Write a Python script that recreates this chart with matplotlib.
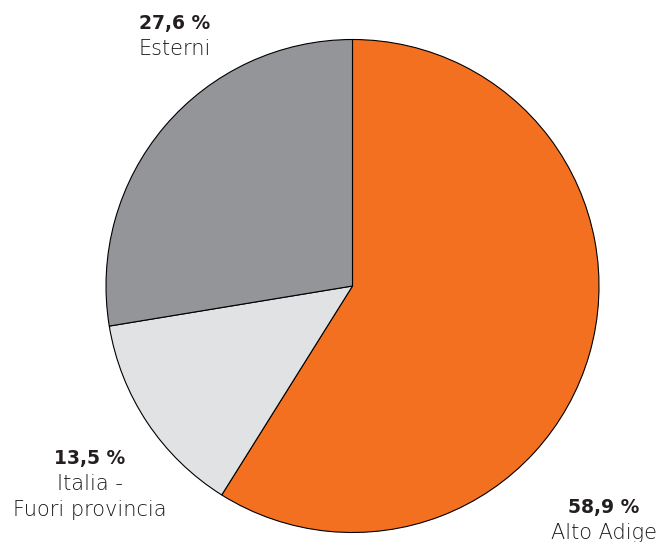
import matplotlib.pyplot as plt

# data
labels = ["Alto Adige", "Italia -\nFuori provincia", "Esterni"]
values = [58.9, 13.5, 27.6]
value_labels = ["58,9 %", "13,5 %", "27,6 %"]
colors = ["#F37021", "#E1E2E4", "#939598"]

plt.rcParams['font.family'] = ['DejaVu Sans']

W, H = 663, 542
fig = plt.figure(figsize=(W / 100, H / 100), dpi=100)

cx, cy, r = 352.5, 286, 246.5
ax = fig.add_axes([(cx - r) / W, (H - cy - r) / H, 2 * r / W, 2 * r / H])
ax.pie(values, colors=colors, startangle=90, counterclock=False,
       wedgeprops=dict(edgecolor='black', linewidth=0.8))
ax.set_xlim(-1, 1)
ax.set_ylim(-1, 1)
ax.set_aspect('equal')
ax.axis('off')


def to_data(px, py):
    return (px - cx) / r, (cy - py) / r


# label positions in pixels (baseline of value line)
label_pos = [(604, 513), (90, 464), (175, 29)]
for (px, py), vl, lab in zip(label_pos, value_labels, labels):
    x, y = to_data(px, py)
    ax.text(x, y, vl, ha='center', va='baseline', fontsize=13.5,
            fontweight='bold', color='#231F20', clip_on=False)
    for i, line in enumerate(lab.split("\n")):
        x2, y2 = to_data(px, py + 26 * (i + 1))
        ax.text(x2, y2, line, ha='center', va='baseline', fontsize=15,
                fontweight='light', color='#1a1718', clip_on=False)

fig.savefig("out.png", dpi=100)
